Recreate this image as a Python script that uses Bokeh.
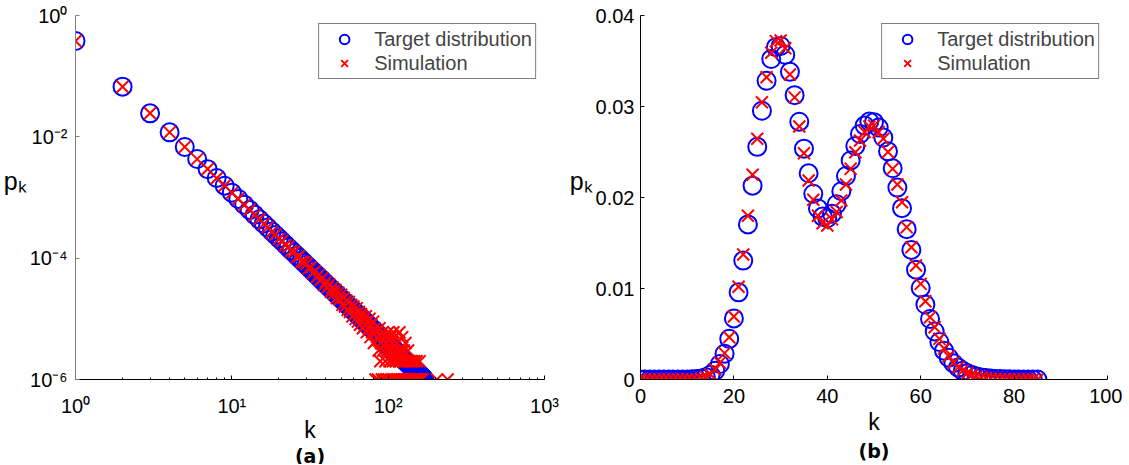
from bokeh.plotting import figure
from bokeh.layouts import row
from bokeh.models import Range1d, FixedTicker, Legend, LegendItem, Title
from bokeh.embed import file_html
from bokeh.resources import INLINE

# ---------------- data: panel (a), power-law degree distribution ----------------
pl_k = list(range(1, 171))
# target p_k in units of 1e-6
pl_target_ppm = [
    380000, 67175, 24380, 11875, 6798, 4309, 2931, 2099, 1564, 1202,
    946.9, 761.8, 623.6, 518.1, 436.1, 371.1, 318.9, 276.4, 241.5, 212.4,
    188.0, 167.4, 149.8, 134.7, 121.6, 110.2, 100.3, 91.6, 83.9, 77.1,
    71.0, 65.6, 60.7, 56.4, 52.4, 48.9, 45.6, 42.7, 40.0, 37.55,
    35.3, 33.2, 31.3, 29.6, 28.0, 26.5, 25.1, 23.8, 22.6, 21.5,
    20.46, 19.49, 18.58, 17.73, 16.94, 16.19, 15.49, 14.83, 14.21, 13.63,
    13.08, 12.55, 12.06, 11.60, 11.16, 10.74, 10.34, 9.97, 9.61, 9.27,
    8.95, 8.64, 8.35, 8.07, 7.80, 7.55, 7.30, 7.07, 6.85, 6.64,
    6.44, 6.24, 6.05, 5.88, 5.70, 5.54, 5.38, 5.23, 5.09, 4.95,
    4.81, 4.68, 4.56, 4.44, 4.32, 4.21, 4.10, 4.00, 3.90, 3.80,
    3.71, 3.62, 3.53, 3.45, 3.36, 3.28, 3.21, 3.13, 3.06, 2.99,
    2.93, 2.86, 2.80, 2.74, 2.68, 2.62, 2.57, 2.51, 2.46, 2.41,
    2.36, 2.31, 2.26, 2.22, 2.18, 2.13, 2.09, 2.05, 2.01, 1.97,
    1.93, 1.90, 1.86, 1.83, 1.79, 1.76, 1.73, 1.70, 1.67, 1.64,
    1.61, 1.58, 1.55, 1.53, 1.50, 1.48, 1.45, 1.43, 1.40, 1.38,
    1.36, 1.34, 1.32, 1.29, 1.27, 1.25, 1.23, 1.22, 1.20, 1.18,
    1.16, 1.14, 1.13, 1.11, 1.09, 1.08, 1.06, 1.04, 1.03, 1.01,
]
pl_sim_k = list(range(1, 171)) + [205, 240]
# simulated counts per million nodes
pl_sim_count = [
    380120, 67050, 24410, 11830, 6820, 4290, 2950, 2080, 1580, 1190,
    955, 748, 630, 512, 441, 368, 325, 270, 246, 208,
    192, 163, 155, 131, 127, 104, 108, 88, 86, 81,
    68, 70, 57, 61, 49, 53, 44, 47, 36, 41,
    33, 37, 28, 33, 26, 30, 22, 27, 21, 25,
    17, 22, 16, 20, 14, 19, 13, 17, 11, 16,
    12, 10, 15, 9, 13, 8, 12, 11, 7, 10,
    8, 11, 6, 9, 7, 10, 5, 8, 6, 9,
    4, 7, 1, 6, 5, 1, 3, 7, 2, 4,
    1, 6, 3, 1, 5, 2, 4, 1, 3, 6,
    1, 2, 5, 3, 1, 4, 2, 6, 1, 3,
    5, 2, 1, 4, 1, 3, 2, 6, 1, 2,
    3, 1, 5, 2, 1, 3, 1, 2, 4, 1,
    0, 2, 1, 3, 1, 0, 2, 1, 1, 2,
    0, 1, 2, 1, 0, 1, 2, 1, 1, 0,
    1, 2, 1, 0, 1, 1, 0, 1, 2, 1,
    0, 1, 1, 0, 1, 0, 0, 0, 0, 0,
    1, 1,
]
pl_x_ticks = [1, 10, 100, 1000]
pl_x_tick_labels = ["10⁰", "10¹", "10²", "10³"]
pl_y_ticks = [1, 1e-2, 1e-4, 1e-6]
pl_y_tick_labels = ["10⁰", "10⁻²", "10⁻⁴", "10⁻⁶"]

# ---------------- data: panel (b), bimodal distribution ----------------
bm_k = list(range(0, 86))
bm_target = [
    0, 0, 0, 0, 0, 0, 0, 0, 0, 0,
    0.0000076, 0.0000208, 0.000052, 0.000120, 0.000257, 0.000515, 0.00096, 0.00170, 0.00283, 0.00447,
    0.00671, 0.00958, 0.01307, 0.01704, 0.02130, 0.02557, 0.02953, 0.03283, 0.03522, 0.03652,
    0.03665, 0.03569, 0.03381, 0.03125, 0.02833, 0.02537, 0.02266, 0.02041, 0.01880, 0.01790,
    0.01772, 0.01821, 0.01926, 0.02069, 0.02236, 0.02407, 0.02566, 0.02698, 0.02790, 0.02835,
    0.02828, 0.02768, 0.02659, 0.02507, 0.02321, 0.02109, 0.01883, 0.01652, 0.01424, 0.01207,
    0.01006, 0.00824, 0.00665, 0.00528, 0.00412, 0.00317, 0.00240, 0.00179, 0.00132, 0.000955,
    0.000685, 0.000481, 0.000334, 0.000229, 0.000155, 0.000103, 0.000068, 0.000044, 0.000028, 0.000018,
    0.000011, 0.000007, 0.000004, 0.000003, 0.000002, 0.000001,
]
bm_sim = [
    0, 0, 0, 0, 0, 0, 0, 0, 0, 0,
    0, 0, 0, 0.00012, 0.00030, 0.00055, 0.00110, 0.00185, 0.00290, 0.00465,
    0.00692, 0.01020, 0.01374, 0.01800, 0.02250, 0.02645, 0.03047, 0.03322, 0.03590, 0.03718,
    0.03725, 0.03640, 0.03352, 0.03100, 0.02780, 0.02487, 0.02187, 0.01975, 0.01800, 0.01718,
    0.01692, 0.01760, 0.01840, 0.01967, 0.02143, 0.02315, 0.02498, 0.02626, 0.02720, 0.02780,
    0.02790, 0.02718, 0.02645, 0.02500, 0.02315, 0.02143, 0.01948, 0.01674, 0.01454, 0.01253,
    0.01051, 0.00860, 0.00685, 0.00575, 0.00447, 0.00340, 0.00255, 0.00185, 0.00135, 0.00098,
    0.00072, 0.00050, 0.00034, 0.00024, 0.00016, 0.00010, 0.00007, 0.00004, 0.00003, 0.00002,
    0.00001, 0, 0, 0, 0, 0,
]
bm_x_ticks = [0, 20, 40, 60, 80, 100]
bm_y_ticks = [0, 0.01, 0.02, 0.03, 0.04]
bm_y_tick_labels = ["0", "0.01", "0.02", "0.03", "0.04"]

legend_labels = ["Target distribution", "Simulation"]
x_label = "k"
y_label = "pₖ\n "
captions = ["(a)", "(b)"]

FONT = "Liberation Sans"
BLUE = "#0000ff"
RED = "#ff0000"


def style_axes(p):
    p.outline_line_color = None
    p.grid.visible = False
    p.background_fill_color = "white"
    p.border_fill_color = "white"
    for ax in (p.xaxis[0], p.yaxis[0]):
        ax.major_tick_in = 4
        ax.major_tick_out = 0
        ax.minor_tick_in = 2
        ax.minor_tick_out = 0
        ax.major_label_text_font = FONT
        ax.major_label_text_font_size = "20px"
        ax.major_label_text_color = "black"
        ax.axis_line_color = "black"
        ax.major_tick_line_color = "black"
        ax.minor_tick_line_color = "black"
        ax.axis_label_text_font = FONT
        ax.axis_label_text_font_size = "23px"
        ax.axis_label_text_font_style = "normal"
        ax.axis_label_text_color = "black"
    p.xaxis.axis_label = x_label
    p.yaxis.axis_label = y_label
    p.yaxis.axis_label_orientation = "horizontal"
    p.yaxis.axis_label_text_font_size = "25px"
    p.yaxis.axis_label_standoff = 0


def add_legend(p, r1, r2):
    leg = Legend(
        items=[LegendItem(label=legend_labels[0], renderers=[r1]),
               LegendItem(label=legend_labels[1], renderers=[r2])],
        location="top_right",
        margin=8, padding=3, spacing=0,
        glyph_width=44, glyph_height=24, label_height=22, label_standoff=8,
        label_text_font=FONT, label_text_font_size="20px",
        border_line_color="black", border_line_width=1,
        background_fill_color="white", background_fill_alpha=1.0,
    )
    p.add_layout(leg)


def add_caption(p, text, standoff):
    p.add_layout(Title(text=text, align="center", text_font="DejaVu Sans",
                       text_font_size="19px", text_font_style="bold",
                       text_color="black", standoff=standoff, offset=0), "below")


# ---------------- panel (a) ----------------
p1 = figure(x_axis_type="log", y_axis_type="log",
            x_range=Range1d(1, 1000), y_range=Range1d(1e-6, 1),
            frame_width=469, frame_height=364,
            min_border_left=68, min_border_right=22, min_border_top=15, min_border_bottom=80,
            output_backend="svg", toolbar_location=None)
style_axes(p1)
minor_x = [m * d for d in (1, 10, 100) for m in range(2, 10)]
p1.xaxis.ticker = FixedTicker(ticks=pl_x_ticks, minor_ticks=minor_x)
p1.yaxis.ticker = FixedTicker(ticks=pl_y_ticks, minor_ticks=[])
p1.xaxis.major_label_overrides = {float(t): s for t, s in zip(pl_x_ticks, pl_x_tick_labels)}
p1.yaxis.major_label_overrides = {float(t): s for t, s in zip(pl_y_ticks, pl_y_tick_labels)}
p1.yaxis.axis_line_color = "#808080"
p1.yaxis.major_tick_line_color = "#808080"
p1.xaxis.major_label_standoff = 15
p1.yaxis.major_label_standoff = 8
p1.xaxis.axis_label_standoff = -3

pl_target = [v / 1e6 for v in pl_target_ppm]
sim_k = [k for k, c in zip(pl_sim_k, pl_sim_count) if c > 0]
sim_p = [c / 1e6 for c in pl_sim_count if c > 0]
ra1 = p1.scatter(pl_k, pl_target, marker="circle", size=18, fill_color=None,
                 line_color=BLUE, line_width=2)
ra2 = p1.scatter(sim_k, sim_p, marker="x", size=17, line_color=RED, line_width=2)
add_legend(p1, ra1, ra2)
add_caption(p1, captions[0], -5)

# ---------------- panel (b) ----------------
p2 = figure(x_range=Range1d(0, 100), y_range=Range1d(0, 0.04),
            frame_width=467, frame_height=364,
            min_border_left=72, min_border_right=15, min_border_top=15, min_border_bottom=80,
            output_backend="svg", toolbar_location=None)
style_axes(p2)
p2.xaxis.ticker = FixedTicker(ticks=bm_x_ticks, minor_ticks=[])
p2.yaxis.ticker = FixedTicker(ticks=bm_y_ticks, minor_ticks=[])
p2.xaxis.major_label_overrides = {float(t): str(t) for t in bm_x_ticks}
p2.yaxis.major_label_overrides = {float(t): s for t, s in zip(bm_y_ticks, bm_y_tick_labels)}
p2.xaxis.major_label_standoff = 9
p2.yaxis.major_label_standoff = 6
p2.xaxis.axis_label_standoff = 3

rb1 = p2.scatter(bm_k, bm_target, marker="circle", size=18, fill_color=None,
                 line_color=BLUE, line_width=2)
rb2 = p2.scatter(bm_k, bm_sim, marker="x", size=17, line_color=RED, line_width=2)
add_legend(p2, rb1, rb2)
add_caption(p2, captions[1], 0)

layout = row(p1, p2)
open("out.html", "w").write(file_html(layout, INLINE))
